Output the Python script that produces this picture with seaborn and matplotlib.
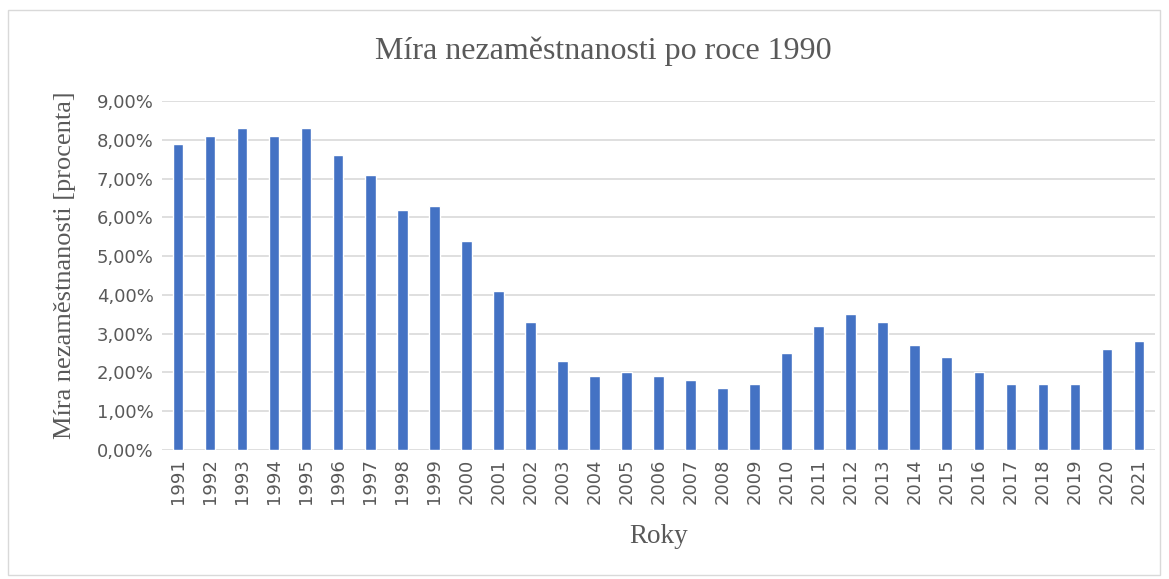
import matplotlib
matplotlib.use('Agg')
import matplotlib.pyplot as plt
import seaborn as sns
import pandas as pd
from matplotlib.patches import Rectangle
from matplotlib.ticker import FuncFormatter

roky = [str(r) for r in range(1991, 2022)]
mira = [7.9, 8.1, 8.3, 8.1, 8.3, 7.6, 7.1, 6.2, 6.3, 5.4, 4.1, 3.3, 2.3, 1.9, 2.0,
        1.9, 1.8, 1.6, 1.7, 2.5, 3.2, 3.5, 3.3, 2.7, 2.4, 2.0, 1.7, 1.7, 1.7, 2.6, 2.8]

df = pd.DataFrame({'rok': roky, 'mira': mira})

sns.set_style('white')
plt.rcParams['font.family'] = ['DejaVu Sans']

fig = plt.figure(figsize=(11.69, 5.79), dpi=100)
ax = fig.add_axes([0.1386, 0.2228, 0.8494, 0.6028])

sns.barplot(data=df, x='rok', y='mira', color='#4472C4', width=0.33,
            saturation=1, ax=ax, zorder=3)

ax.set_ylim(0, 9)
ax.set_yticks(range(0, 10))
ax.yaxis.set_major_formatter(FuncFormatter(lambda v, p: f'{v:.2f}%'.replace('.', ',')))
ax.grid(axis='y', color='#d9d9d9', linewidth=1.2, zorder=0)
ax.set_axisbelow(True)
for s in ax.spines.values():
    s.set_visible(False)
ax.tick_params(axis='both', length=0, labelsize=13, labelcolor='#595959', pad=6)
ax.tick_params(axis='x', rotation=90)
ax.set_xlim(-0.5, len(roky) - 0.5)

serif = ['Liberation Serif', 'DejaVu Serif']
ax.set_xlabel('Roky', family=serif, fontsize=19.5, color='#595959', labelpad=14)
ax.set_ylabel('Míra nezaměstnanosti [procenta]', family=serif, fontsize=19,
              color='#595959')
ax.yaxis.set_label_coords(-0.087, 0.53)
fig.text(0.516, 0.912, 'Míra nezaměstnanosti po roce 1990', family=serif,
         fontsize=23, color='#595959', ha='center', va='center')

fig.patches.append(Rectangle((8 / 1169, 1 - 575 / 579), 1152 / 1169, 565 / 579,
                             transform=fig.transFigure, fill=False,
                             edgecolor='#d9d9d9', linewidth=1))

fig.savefig('out.png', dpi=100)
